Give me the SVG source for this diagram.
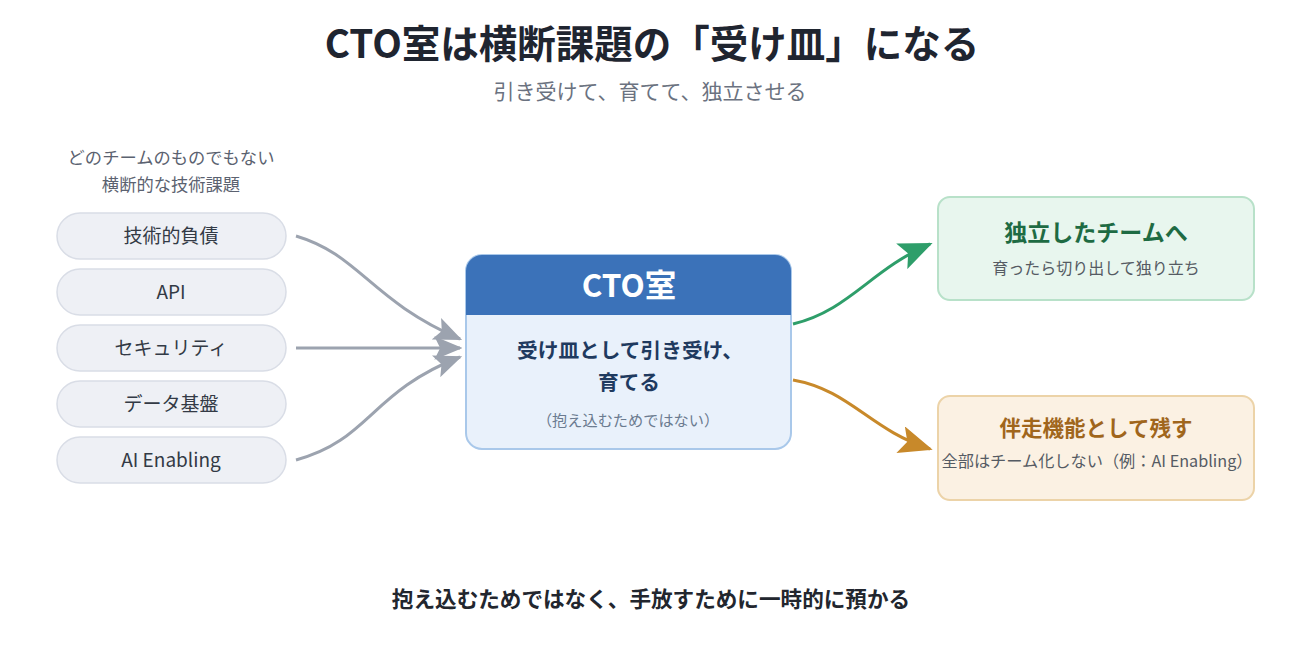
<svg xmlns="http://www.w3.org/2000/svg" width="1300" height="672" viewBox="0 0 1300 672">
<defs>
<style>
text{font-family:"Noto Sans CJK JP","Noto Sans",sans-serif;text-anchor:middle}
.pill{fill:#eef0f5;stroke:#d9dde6;stroke-width:1.5}
.pt{font-size:19px;fill:#333a45}
.c{fill:none;stroke-width:3}
</style>
<marker id="ag" viewBox="0 0 24 20" refX="22" refY="10" markerWidth="28" markerHeight="24" markerUnits="userSpaceOnUse" orient="auto"><path d="M0,0 L24,10 L0,20 L5,10 Z" fill="#9ca3af"/></marker>
<marker id="agr" viewBox="0 0 24 20" refX="22" refY="10" markerWidth="34" markerHeight="28" markerUnits="userSpaceOnUse" orient="auto"><path d="M0,0 L24,10 L0,20 L5,10 Z" fill="#2e9e6a"/></marker>
<marker id="aor" viewBox="0 0 24 20" refX="22" refY="10" markerWidth="34" markerHeight="28" markerUnits="userSpaceOnUse" orient="auto"><path d="M0,0 L24,10 L0,20 L5,10 Z" fill="#c8892a"/></marker>
</defs>
<rect width="1300" height="672" fill="#ffffff"/>
<g id="title">
<text x="652" y="58" font-size="38.5" font-weight="700" fill="#1f2530">CTO室は横断課題の「受け皿」になる</text>
<text x="650" y="99" font-size="21" fill="#6b7280">引き受けて、育てて、独立させる</text>
</g>
<g id="left-label">
<text x="171" y="164" font-size="17.3" fill="#5b6270">どのチームのものでもない</text>
<text x="171" y="191" font-size="17.3" fill="#5b6270">横断的な技術課題</text>
</g>
<g id="item-debt"><rect class="pill" x="57" y="213" width="229" height="46" rx="23"/><text class="pt" x="171" y="243">技術的負債</text></g>
<g id="item-api"><rect class="pill" x="57" y="269" width="229" height="46" rx="23"/><text class="pt" x="171" y="299">API</text></g>
<g id="item-security"><rect class="pill" x="57" y="325" width="229" height="46" rx="23"/><text class="pt" x="171" y="355">セキュリティ</text></g>
<g id="item-data"><rect class="pill" x="57" y="381" width="229" height="46" rx="23"/><text class="pt" x="171" y="411">データ基盤</text></g>
<g id="item-ai"><rect class="pill" x="57" y="437" width="229" height="46" rx="23"/><text class="pt" x="171" y="467">AI Enabling</text></g>
<g id="connectors">
<path class="c" stroke="#9ca3af" d="M296,236 C360,255 370,300 460,339" marker-end="url(#ag)"/>
<path class="c" stroke="#9ca3af" d="M296,348 L460,348" marker-end="url(#ag)"/>
<path class="c" stroke="#9ca3af" d="M296,460 C370,440 370,392 460,357" marker-end="url(#ag)"/>
<path class="c" stroke="#2e9e6a" d="M793,324 C850,310 870,270 930,244" marker-end="url(#agr)"/>
<path class="c" stroke="#c8892a" d="M793,380 C850,390 870,430 930,449" marker-end="url(#aor)"/>
</g>
<g id="cto">
<rect x="466" y="255" width="325" height="194" rx="16" fill="#e9f1fb" stroke="#a9c8ea" stroke-width="2"/>
<path d="M466,315 V271 A16,16 0 0 1 482,255 H775 A16,16 0 0 1 791,271 V315 Z" fill="#3b72b9"/>
<text x="629" y="297" font-size="31.5" font-weight="700" fill="#ffffff">CTO室</text>
<text x="630" y="358" font-size="20.7" font-weight="700" fill="#1f3a5f">受け皿として引き受け、</text>
<text x="629" y="390" font-size="20.7" font-weight="700" fill="#1f3a5f">育てる</text>
<text x="628" y="426" font-size="15.2" fill="#6b7b90">（抱え込むためではない）</text>
</g>
<g id="independent">
<rect x="938" y="197" width="316" height="103" rx="12" fill="#e8f6ee" stroke="#b8e1c9" stroke-width="2"/>
<text x="1096" y="241" font-size="23" font-weight="700" fill="#1e6b43">独立したチームへ</text>
<text x="1096" y="274" font-size="16" fill="#555b63">育ったら切り出して独り立ち</text>
</g>
<g id="support">
<rect x="938" y="396" width="316" height="104" rx="12" fill="#fbf1e3" stroke="#ecd3a8" stroke-width="2"/>
<text x="1096" y="436" font-size="21.5" font-weight="700" fill="#a0661c">伴走機能として残す</text>
<text x="1097" y="467" font-size="16.2" fill="#555b63">全部はチーム化しない（例：AI Enabling）</text>
</g>
<g id="footer">
<text x="651" y="607" font-size="21.6" font-weight="700" fill="#22262e">抱え込むためではなく、手放すために一時的に預かる</text>
</g>
</svg>
